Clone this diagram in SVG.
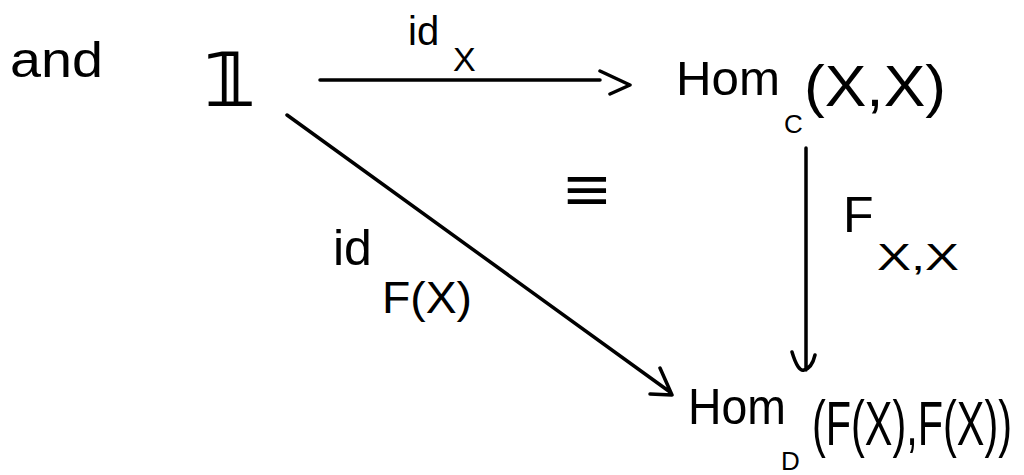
<svg xmlns="http://www.w3.org/2000/svg" width="1024" height="475" viewBox="0 0 1024 475">
<style>
.t{font-family:"Liberation Sans","DejaVu Sans",sans-serif;fill:#000}
.c{stroke:#000;stroke-width:3.5;fill:none;stroke-linecap:round;stroke-linejoin:round}
</style>
<rect width="1024" height="475" fill="#fff"/>
<g id="label-and"><text class="t" x="10" y="77" font-size="50" textLength="93" lengthAdjust="spacingAndGlyphs">and</text></g>
<g id="node-one"><text class="t" x="202" y="106" font-size="74" font-weight="bold" font-family="DejaVu Sans, sans-serif" textLength="56" lengthAdjust="spacingAndGlyphs">𝟙</text></g>
<g id="node-homc">
<text class="t" x="676" y="95" font-size="48" textLength="104" lengthAdjust="spacingAndGlyphs">Hom</text>
<text class="t" x="784" y="133" font-size="26">C</text>
<text class="t" x="804" y="106" font-size="58" textLength="142" lengthAdjust="spacingAndGlyphs">(X,X)</text>
</g>
<g id="node-homd">
<text class="t" x="688" y="424" font-size="50" textLength="98" lengthAdjust="spacingAndGlyphs">Hom</text>
<text class="t" x="781" y="470" font-size="26">D</text>
<text class="t" transform="translate(812,445) scale(1,1.5)" x="0" y="0" font-size="42" textLength="200" lengthAdjust="spacingAndGlyphs">(F(X),F(X))</text>
</g>
<g id="connectors">
<path class="c" d="M320,80 L600,80 M600,71 L630,85 L610,94"/>
<path class="c" d="M806,148 L806,370 M792,352 Q798,372 804,370 Q812,368 815,355"/>
<path class="c" d="M287,115 L670,392 M660,368 L672,395 L650,394"/>
</g>
<g id="label-idx">
<text class="t" x="408" y="45" font-size="40">id</text>
<text class="t" x="453" y="71" font-size="34">X</text>
</g>
<g id="label-fxx">
<text class="t" x="843" y="232" font-size="50">F</text>
<text class="t" x="877" y="270" font-size="36" textLength="82" lengthAdjust="spacingAndGlyphs">X,X</text>
</g>
<g id="label-idfx">
<text class="t" x="333" y="265" font-size="50">id</text>
<text class="t" x="382" y="313" font-size="44" textLength="90" lengthAdjust="spacingAndGlyphs">F(X)</text>
</g>
<g id="label-equiv"><text class="t" x="564" y="212" font-size="65" font-family="DejaVu Sans, sans-serif" textLength="46" lengthAdjust="spacingAndGlyphs">≡</text></g>
</svg>
